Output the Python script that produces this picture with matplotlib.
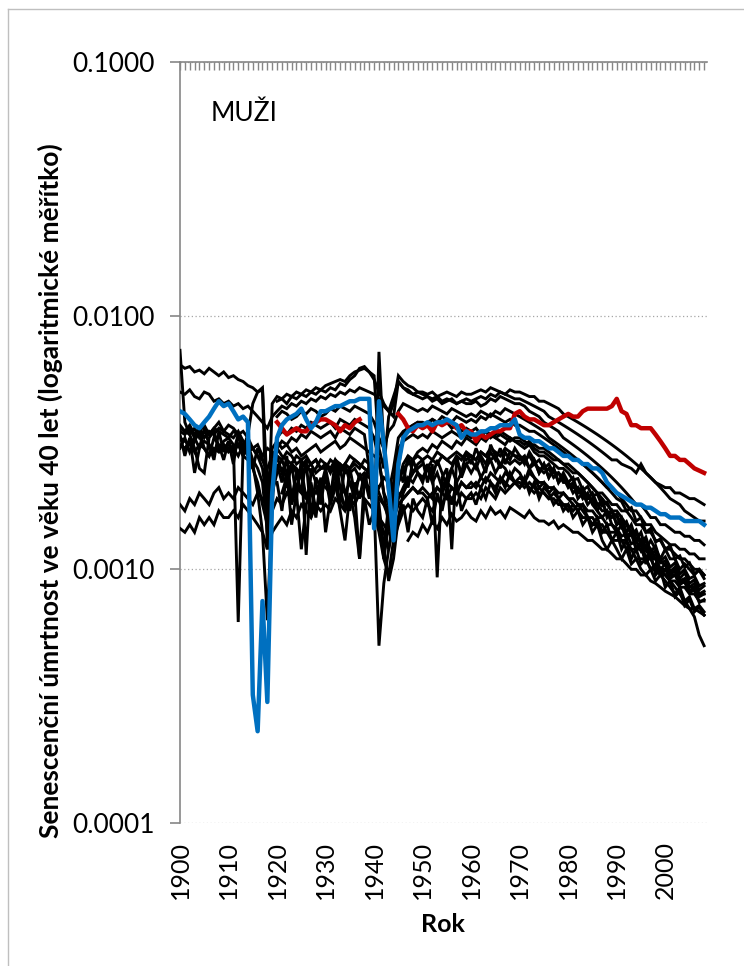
import matplotlib
matplotlib.use("Agg")
import matplotlib.pyplot as plt
from matplotlib.lines import Line2D
import numpy as np

# ---------------- DATA (values in units of 0.0001) ----------------
UNIT = 1e-4

s01_start = 1900
s01 = [64,62,63,60,61,59,62,60,58,60,
       57,58,56,55,53,52,50,51,12,45,
       48,47,49,48,50,49,51,50,52,51,
       53,54,55,56,55,58,60,61,62,60,
       58,30,25,40,45,58,55,53,52,50,
       50,49,50,48,49,50,49,48,50,49,
       49,50,51,50,52,51,50,49,51,50,
       50,49,48,48,46,46,45,44,43,41,
       40,39,38,37,36,35,34,33,32,31,
       30,29,28,27,26,25,24,23,22,21,
       20,19,18.5,18,17,16.5,16,15.5,15.5]

s02_start = 1900
s02 = [73,38,34,30,25,24,33,35,30,32,
       33,31,6.2,30,34,45,50,52,20,30,
       32,30,31,29,30,28,29,30,31,29,
       30,31,32,30,31,33,32,31,30,29,
       28,27,20,18,22,30,32,33,34,33,
       34,33,35,34,33,34,35,34,33,34,
       33,34,33,35,34,33,34,33,32,33,
       33,32,31,31,30,30,29,28,27,26,
       26,25,24,23,22,21,20,19,18,17,
       17,16,15,14,13,13,12,11,11,10,
       9.5,9,8.5,8,7.5,7,6.5,5.5,5.0]

s03_start = 1900
s03 = [50,49,51,48,47,50,49,46,47,45,
       46,44,45,43,44,42,40,38,36,40,
       42,44,43,45,44,46,45,47,46,48,
       47,49,48,50,49,51,50,52,51,50,
       49,47,44,42,40,55,52,51,49,50,
       49,48,47,48,46,47,46,45,46,45,
       45,46,44,45,47,46,48,47,46,45,
       45,44,42,41,40,38,37,36,35,33,
       32,31,30,29,28,27,26,25,24,23,
       22,21,20,19,18,18,17,16,16,15,
       15,14.5,14,14,13.5,13.5,13,13,12.5]

s04_start = 1900
s04 = [37,35,34,36,33,35,34,36,38,35,
       37,36,34,35,33,30,28,25,18,26,
       30,28,27,26,28,27,25,26,27,25,
       26,25,27,26,24,25,26,25,27,26,
       18,5.0,8.8,12,16,22,25,26,27,28,
       27,28,27,29,28,27,28,29,28,27,
       28,27,29,28,27,28,26,27,26,27,
       26,27,25,26,25,24,25,23,24,22,
       22,21,21,20,19,19,18,17,17,16,
       16.5,14.6,15.4,13.7,14.3,12.7,13.4,11.7,12.4,10.8,
       11.2,10.2,10.6,9.6,10,9.2,9.4,8.6,8.8]

s05_start = 1900
s05 = [35,34,36,33,35,37,34,36,35,34,
       33,35,34,32,31,30,28,27,25,28,
       30,32,31,33,32,34,33,35,34,33,
       34,35,33,36,35,34,36,35,34,25,
       15,72,30,20,25,33,35,36,37,38,
       37,38,39,38,40,39,38,40,39,38,
       39,38,40,39,41,40,39,38,39,37,
       37,36,35,35,34,33,32,31,30,29,
       28,27,27,26,25,24,23,22,21,21,
       20,19,18,17,17,16,15,15,14,13.5,
       13,12.5,12.5,12,12,11.5,11.5,11,11]

s06_start = 1900
s06 = [33,32,31,33,30,32,31,29,30,31,
       30,29,31,28,27,25,22,18,15,20,
       24,25,23,26,24,25,27,26,24,25,
       25,27,26,24,26,25,27,26,25,24,
       22,18,12,9.0,11,16,20,22,24,25,
       26,25,27,26,28,27,26,28,27,29,
       28,27,29,28,30,29,28,30,29,28,
       28,27,28,26,27,25,26,24,24,23,
       22,23,20,21,19,20,18,18.5,16.5,17,
       15,15.5,13.5,14,12,12.5,10.5,11.5,9.5,10,
       8.5,9,7.8,8.2,7.2,7.6,6.8,7.1,6.6]

s07_start = 1900
s07 = [31,30,32,29,31,30,28,30,29,31,
       29,30,28,31,29,30,31,28,30,29,
       28,27,29,28,26,27,28,26,27,25,
       26,25,24,26,25,24,25,23,24,23,
       22,21,23,22,21,20,19,20,21,20,
       20,19,20,21,20,19,21,20,22,21,
       21,22,21,23,22,21,23,22,21,22,
       22,21,22,21,20,20,19,19,18,18,
       17,18,17,16,16,15,15,14,14,13,
       13,13,12,12,11,11,11,10,10,9.5,
       9.5,9,9,8.5,8.5,8,8,7.5,7.5]

s08_start = 1900
s08 = [18,17,19,18,20,19,18,20,21,19,
       20,19,21,20,19,18,20,19,18,17,
       19,18,20,19,21,20,19,21,20,22,
       21,20,22,21,20,22,21,23,22,21,
       20,19,18,17,16,18,19,20,21,20,
       21,20,19,21,20,22,21,20,22,21,
       22,21,23,22,24,23,22,24,23,22,
       23,22,24,23,22,22,21,21,20,20,
       19,19,18,18,17,17,16,16,15,15,
       14.5,13.5,13.8,12.6,12.9,11.8,12.4,11,11.5,10.6,
       10.8,9.8,10.2,9.2,9.7,8.8,9.1,8.3,8.6]

s09_start = 1900
s09 = [14.5,14,15,14,16,15,16,15,17,16,
       16,17,16,18,17,16,15,14,12,14,
       15,16,15,17,16,18,17,16,18,17,
       18,17,19,18,17,19,18,20,19,18,
       17,16,15,14,13,15,17,18,17,18,
       19,18,17,19,18,20,19,18,20,19,
       19,20,19,21,20,19,21,20,21,22,
       21,22,21,20,21,20,19,20,19,18,
       18,17,18,17,16,16,15,15,14,14,
       14,13,13,12,12,12,11,11,10,10,
       10,9.5,9.5,9,9,8.5,8.5,8,8]

s10_start = 1900
s10 = [34,28,33,24,30,36,31,27,35,29,
       32,26,34,30,28,25,30,27,24,21,
       26,22,28,19,24,20,27,16,23,21,
       25,20,24,18,26,22,19,24,21,26,
       23,15,12,18,20,25,22,28,24,26,
       27,22,26,9.3,23,25,12,27,24,29,
       26,30,27,24,31,28,25,29,27,30,
       28,26,29,27,24,26,23,25,22,24,
       22,20,21,19,20,18,17,19,16,17,
       15,16,14,15,13,14,12,13,12,11,
       12,11,11,10,10.5,10,9.5,10,9.5]

s11_start = 1920
s11 = [22,17,24,15,20,12,18,21,16,23,
       14,19,22,17,13,20,16,11,19,15,
       17,14,11,9.5,13,16,18,14,19,17,
       16,19,15,20,17,21,18,22,17,19,
       20,18,21,19,22,20,23,21,24,22,
       21,23,20,22,19,21,20,18,19,17,
       18,16,17,15,16,14,15,13,12,13,
       12,11,12,10.5,11,10,9.5,10,9,9.5,
       9,8.5,8,8.5,7.5,7.8,7,7.2,6.8]

s12_start = 1920
s12 = [46,47,45,48,47,49,48,50,49,51,
       50,52,51,54,53,56,58,62,63,60,
       56,50,45,42,48,55,52,50,49,48,
       47,48,46,47,45,46,47,45,46,47,
       46,47,48,47,49,48,50,49,48,47,
       47,46,45,44,43,42,40,39,38,37,
       36,35,34,33,32,31,30,29,28,27,
       27,26,25.5,25,24,26,24,23,22,21.5,
       21,21,20,20,19.5,19,19,18.5,18]

s13_start = 1920
s13 = [40,42,41,39,40,42,41,43,42,40,
       41,43,42,44,43,42,44,43,42,41,
       38,33,30,35,37,42,45,44,43,42,
       43,42,44,43,42,41,43,42,41,40,
       41,40,42,41,40,42,41,43,42,41,
       40,39,38,37,36,35,33,32,31,30,
       29,28,27,26,25,24,23,22,21,20,
       19,18.5,17,17.5,15.5,16,14,14.5,12.8,13.2,
       12,12.4,11,11.3,10.2,10.6,9.6,9.9,9.2]

s14_start = 1920
s14 = [25,27,24,26,25,23,26,24,25,27,
       26,24,27,25,26,28,27,26,25,24,
       23,20,18,16,19,22,26,28,27,29,
       30,29,31,30,32,31,30,32,31,33,
       32,31,33,32,34,33,32,31,33,32,
       31,30,31,29,28,28,27,26,25,25,
       24,22.5,22.8,20.5,21.2,19.5,19.8,17.8,18.4,16.8,
       16.2,14.8,15.3,13.6,13.9,12.6,12.9,11.6,11.8,10.7,
       10.4,9.6,9.8,8.8,8.9,8.1,8.3,7.4,7.6]

s15_start = 1921
s15 = [20,23,18,21,25,19,22,17,20,
       23,18,21,25,20,17,22,19,24,20,
       18,16,14,12,15,19,21,23,22,24,
       23,25,22,24,21,23,25,22,24,26,
       24,26,23,25,27,24,26,25,23,25,
       24,22,25,23,21,22,20,21,19,20,
       19,18,17,18,16,15,16,14,15,13,
       14,12,13,11,12,10.5,11,10,10.5,9.5,
       10,9.2,9.5,8.7,9,8.2,8.5,7.8,8]

s16_start = 1947
s16 = [13,14,13.5,
       15,14,15.5,14.5,16,15,16.5,15.5,16,17,
       16,15.5,17,16,17.5,16.5,17,16,17.5,17,
       16.5,16,17,16,15.5,15.5,15,15.5,14.5,15,
       14.5,14,14,13.5,13,13,12.5,12,12,11.5,
       11,11,10.5,10,10,9.5,9.5,9,8.8,8.5,
       8.2,8,7.8,7.5,7.2,7,7,6.8,6.6]

s17_start = 1900
s17 = [30,33,29,32,35,30,28,33,31,27,
       32,29,34,28,31,27,25,22,14,23,
       28,24,21,26,19,27,11.4,25,22,18,
       24,19,27,21,17,25,20,11,23,19,
       21,17,11,15,18,22,25,21,27,24,
       22,26,23,27,24,21,25,28,23,26,
       27,25,28,26,29,27,30,26,29,28,
       27,28,25,27,24,26,23,25,22,23,
       21,22,19,20,18,19,17,16,17,15,
       14,15,13,14,12,13,11,12,11,10,
       10.5,9.5,10,9,9.2,8.5,8.8,8,8.2]

s18_start = 1900
s18 = [36,35,37,34,36,33,35,34,36,35,
       34,33,35,32,30,26,20,14,6.3,18,
       33,35,34,36,35,37,36,38,37,36,
       37,38,36,39,38,37,39,38,37,36,
       33,27,20,15,13,25,34,36,37,38,
       38,37,39,38,37,38,36,37,35,36,
       35,36,34,35,33,34,35,34,33,32,
       32,31,32,30,29,29,28,27,27,26,
       25,24,24,23,22,21,20,20,19,18,
       18,17,17,16,15,15,14,14,13,13,
       12,12,11.5,11,11,10.5,10,10,9.5]

blue_start = 1900
blue = [42,41,39,37,36,38,40,43,46,44,
        45,42,39,40,38,3.2,2.3,7.5,3.0,20,
        33,37,39,40,41,43,39,36,38,42,
        42,43,44,44,45,46,46,47,47,47,
        14.5,46,31,21,13,26,33,35,36,37,
        37,38,37,38,38,39,38,37,33,35,
        34,34,35,35,36,36,37,37,37,39,
        34,33,33,32,32,31,30,30,29,28,
        28,27,27,26,26,25,25,24,22,21,
        20,19.5,19,18.5,18,18,17.5,17.5,17,16.5,
        16.5,16,16,16,15.5,15.5,15.5,15.5,15]

red_a_start = 1920
red_a = [38,36,34,35,36,35,35,37,38,39,
         39,38,37,35,37,36,38,39]

red_b_start = 1945
red_b = [41,39,36,35,37,
         36,37,35,38,37,38,38,36,37,35,
         35,32,34,33,34,35,35,36,36,41,
         42,40,39,39,38,37,37,38,39,40,
         41,40,40,42,43,43,43,43,43,44,
         47,42,41,37,37,36,36,36,34,32,
         30,28,28,27,27,26,25,24.5,24]

black_series = [(s01_start, s01), (s02_start, s02), (s03_start, s03),
                (s04_start, s04), (s05_start, s05), (s06_start, s06),
                (s07_start, s07), (s08_start, s08), (s09_start, s09),
                (s10_start, s10), (s11_start, s11), (s12_start, s12),
                (s13_start, s13), (s14_start, s14), (s15_start, s15),
                (s16_start, s16), (s17_start, s17), (s18_start, s18)]

y_ticks = [0.0001, 0.001, 0.01, 0.1]
y_tick_labels = ["0.0001", "0.0010", "0.0100", "0.1000"]
x_tick_years = list(range(1900, 2001, 10))
x_tick_labels = [str(y) for y in x_tick_years]

# ---------------- PLOT ----------------
FONT = ["Lato", "DejaVu Sans"]
plt.rcParams["font.family"] = FONT

W, H = 744, 966
fig = plt.figure(figsize=(W / 100, H / 100), dpi=100)
ax_l, ax_r, ax_t, ax_b = 180, 707, 62, 823
ax = fig.add_axes([ax_l / W, 1 - ax_b / H, (ax_r - ax_l) / W, (ax_b - ax_t) / H])


def yrs(start, vals):
    return np.arange(start, start + len(vals))


for st, vals in black_series:
    ax.plot(yrs(st, vals), np.array(vals) * UNIT, color="black", lw=2.1,
            solid_joinstyle="miter", zorder=3)

ax.plot(yrs(red_a_start, red_a), np.array(red_a) * UNIT, color="#C00000", lw=3.2, zorder=4)
ax.plot(yrs(red_b_start, red_b), np.array(red_b) * UNIT, color="#C00000", lw=3.2, zorder=4)
ax.plot(yrs(blue_start, blue), np.array(blue) * UNIT, color="#0070C0", lw=3.2, zorder=5)

ax.set_yscale("log")
ax.set_ylim(0.0001, 0.1)
ax.set_xlim(1900, 2008.6)

ax.set_yticks(y_ticks)
ax.set_yticklabels(y_tick_labels)
ax.yaxis.set_minor_locator(matplotlib.ticker.NullLocator())
ax.set_xticks(x_tick_years)
ax.set_xticklabels(x_tick_labels, rotation=90)
ax.set_xticks(np.arange(1900, 2009), minor=True)

gray = "#868686"
for side in ["right", "bottom"]:
    ax.spines[side].set_visible(False)
for side in ["left", "top"]:
    ax.spines[side].set_color(gray)
    ax.spines[side].set_linewidth(1.2)

ax.tick_params(axis="x", which="both", top=True, bottom=False, direction="in",
               length=6, width=1.0, color=gray, labeltop=False, labelbottom=True,
               labelsize=18, pad=13)
ax.tick_params(axis="y", which="major", left=True, direction="out", length=7,
               width=1.2, color=gray, labelsize=19, pad=11.5)

ax.yaxis.grid(True, which="major", linestyle=(0, (1, 2)), color="#a6a6a6", lw=0.9)
ax.set_axisbelow(True)

ax.text((211 - ax_l) / (ax_r - ax_l), 1 - (114 - ax_t) / (ax_b - ax_t),
        "MUŽI", transform=ax.transAxes, fontsize=19, ha="left", va="center")

fig.text(50 / W, 1 - 491 / H,
         "Senescenční úmrtnost ve věku 40 let (logaritmické měřítko)",
         rotation=90, ha="center", va="center", fontsize=19, fontweight="bold")
fig.text(443 / W, 1 - 924 / H, "Rok", ha="center", va="center",
         fontsize=18, fontweight="bold")

# chart area border (left and top)
fig.add_artist(Line2D([8 / W, 8 / W], [0, 1 - 9 / H], color="#bfbfbf", lw=1.0))
fig.add_artist(Line2D([8 / W, 1], [1 - 9 / H, 1 - 9 / H], color="#bfbfbf", lw=1.0))

fig.savefig("out.png", dpi=100)
